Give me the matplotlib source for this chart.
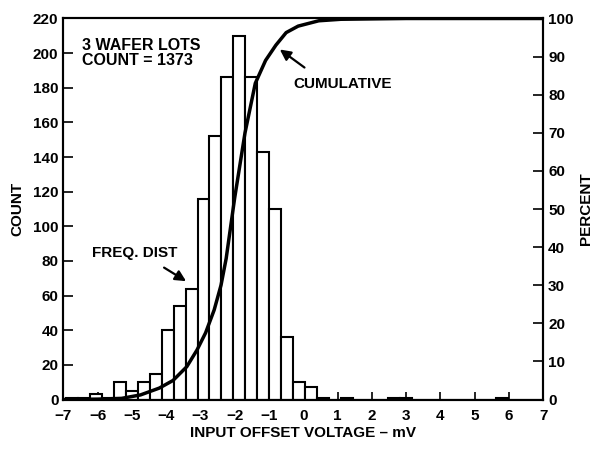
import matplotlib
matplotlib.use("Agg")
import matplotlib.pyplot as plt

plt.rcParams['font.family'] = ['Liberation Sans', 'DejaVu Sans']
plt.rcParams['font.weight'] = 'bold'

# histogram: first bin edge, bin width, counts per bin
bin_start = -6.914
bin_width = 0.348
counts = [1, 1, 3, 1, 10, 5, 10, 15, 40, 54,
          64, 116, 152, 186, 210, 186, 143, 110, 36, 10,
          7, 1, 0, 1, 0, 0, 0, 1, 1, 0,
          0, 0, 0, 0, 0, 0, 1, 0, 0, 0]

# cumulative curve (percent)
cum_x = [-7, -6, -5.3, -4.75, -4.2, -3.8, -3.4, -3.1, -2.85, -2.6, -2.4, -2.25,
         -2.0, -1.7, -1.4, -1.1, -0.8, -0.5, -0.15, 0.45, 1.1, 3, 7]
cum_y = [0, 0.1, 0.3, 1.2, 3, 5, 8.6, 13, 17.5, 23.5, 30, 37,
         53, 70, 83, 89, 93, 96.3, 98, 99.4, 99.8, 100, 100]

fig = plt.figure(figsize=(5.94, 4.5), dpi=100)
ax = fig.add_axes([0.1066, 0.1122, 0.808, 0.8467])
lefts = [bin_start + i * bin_width for i in range(len(counts))]
ax.bar(lefts, counts, width=bin_width, align='edge', color='white',
       edgecolor='black', linewidth=1.5, zorder=2)
ax.set_xlim(-7, 7)
ax.set_ylim(0, 220)
ax.set_xticks(range(-7, 8))
ax.set_yticks(range(0, 221, 20))
ax.tick_params(direction='in', length=7, width=1.2, labelsize=11)
ax.tick_params(axis='x', length=6, pad=7)
for s in ax.spines.values():
    s.set_linewidth(1.5)
ax.set_xlabel('INPUT OFFSET VOLTAGE – mV', fontsize=11, fontweight='bold', labelpad=2)
ax.set_ylabel('COUNT', fontsize=11, fontweight='bold', labelpad=6)

ax2 = ax.twinx()
ax2.plot(cum_x, cum_y, color='black', linewidth=2.5, zorder=3)
ax2.set_ylim(0, 100)
ax2.set_yticks(range(0, 101, 10))
ax2.tick_params(direction='in', length=7, width=1.2, labelsize=11)
ax2.set_ylabel('PERCENT', fontsize=11, fontweight='bold', labelpad=4)
for s in ax2.spines.values():
    s.set_linewidth(1.5)

ax.text(-6.45, 209, '3 WAFER LOTS\nCOUNT = 1373', fontsize=11.5, fontweight='bold',
        va='top', ha='left', linespacing=1.05)
ax2.text(-0.3, 82.7, 'CUMULATIVE', fontsize=11, fontweight='bold', va='center', ha='left')
ax2.annotate('', xy=(-0.75, 92.3), xytext=(0.1, 86.7),
             arrowprops=dict(arrowstyle='-|>', color='black', lw=1.6, mutation_scale=16))
ax.text(-6.17, 84.5, 'FREQ. DIST', fontsize=11, fontweight='bold', va='center', ha='left')
ax.annotate('', xy=(-3.35, 67.5), xytext=(-4.13, 77),
            arrowprops=dict(arrowstyle='-|>', color='black', lw=1.6, mutation_scale=16))

fig.savefig('out.png', dpi=100)
